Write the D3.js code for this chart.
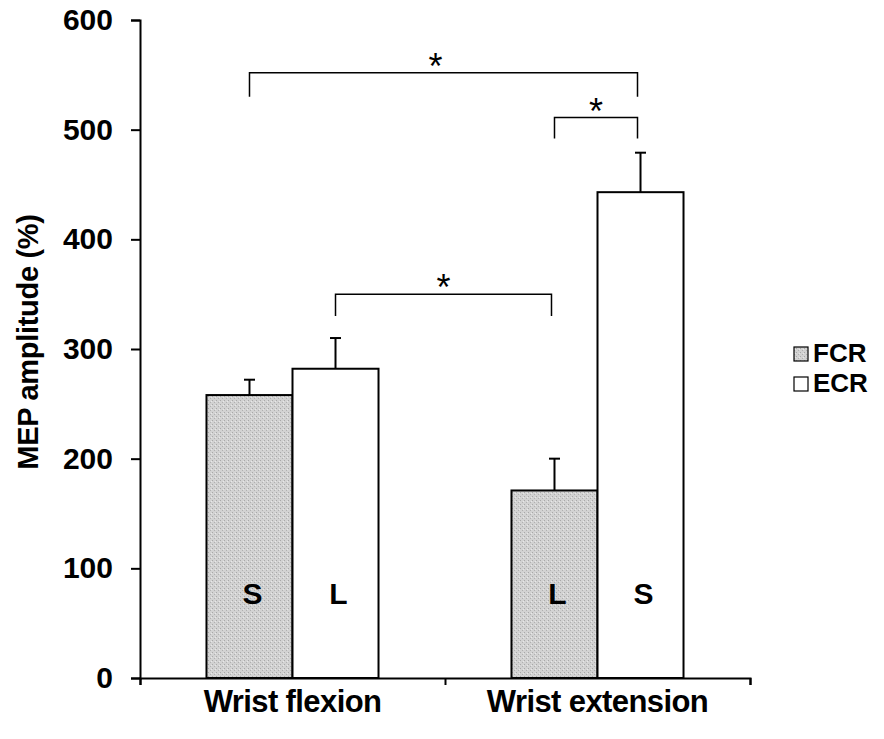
<!DOCTYPE html>
<html>
<head>
<meta charset="utf-8">
<script src="https://cdn.jsdelivr.net/npm/d3@7"></script>
<style>
  html, body { margin: 0; padding: 0; background: #fff; }
  svg { display: block; font-family: "Liberation Sans", Arial, sans-serif; }
</style>
</head>
<body>
<svg id="chart" width="884" height="739"></svg>
<script>
// ---- data ----
const categories = ["Wrist flexion", "Wrist extension"];
const seriesNames = ["FCR", "ECR"];
const fcrValues = [258, 171];
const fcrErrors = [14, 29];
const ecrValues = [282, 443];
const ecrErrors = [28, 36];
const fcrBarLabels = ["S", "L"];
const ecrBarLabels = ["L", "S"];
const yTicks = [0, 100, 200, 300, 400, 500, 600];
const yTitle = "MEP amplitude (%)";
// significance brackets: [fromCategory, fromSeries, toCategory, toSeries, level, drop]
const brackets = [
  ["Wrist flexion", "FCR", "Wrist extension", "ECR", 552, 530],
  ["Wrist extension", "FCR", "Wrist extension", "ECR", 511, 492],
  ["Wrist flexion", "ECR", "Wrist extension", "FCR", 350, 330]
];

const svg = d3.select("#chart");
const y = d3.scaleLinear().domain([0, 600]).range([678, 20]);
const x = d3.scaleBand().domain(categories).range([140, 750]).paddingInner(0).paddingOuter(0);
const xs = d3.scaleBand().domain(seriesNames).range([0, x.bandwidth()]).paddingInner(0).paddingOuter(0.773);

// pattern for FCR (stippled gray)
const defs = svg.append("defs");
const pat = defs.append("pattern").attr("id", "stipple").attr("patternUnits", "userSpaceOnUse")
  .attr("width", 4).attr("height", 4);
pat.append("rect").attr("width", 4).attr("height", 4).attr("fill", "#d2d2d2");
pat.append("rect").attr("x", 0).attr("y", 0).attr("width", 1).attr("height", 1).attr("fill", "#a8a8a8");
pat.append("rect").attr("x", 2).attr("y", 2).attr("width", 1).attr("height", 1).attr("fill", "#b0b0b0");
pat.append("rect").attr("x", 3).attr("y", 1).attr("width", 1).attr("height", 1).attr("fill", "#e8e8e8");

const fills = { FCR: "url(#stipple)", ECR: "#ffffff" };

const rows = [];
categories.forEach((c, i) => {
  rows.push({ cat: c, s: "FCR", v: fcrValues[i], e: fcrErrors[i], lab: fcrBarLabels[i] });
  rows.push({ cat: c, s: "ECR", v: ecrValues[i], e: ecrErrors[i], lab: ecrBarLabels[i] });
});
const cx = (cat, s) => x(cat) + xs(s) + xs.bandwidth() / 2;

// error bars (behind bars)
const eg = svg.append("g").attr("stroke", "#000").attr("stroke-width", 2);
rows.forEach(d => {
  const xc = cx(d.cat, d.s);
  eg.append("line").attr("x1", xc).attr("x2", xc).attr("y1", y(d.v)).attr("y2", y(d.v + d.e));
  eg.append("line").attr("x1", xc - 5.5).attr("x2", xc + 5.5).attr("y1", y(d.v + d.e)).attr("y2", y(d.v + d.e));
});

// bars
svg.append("g").selectAll("rect").data(rows).join("rect")
  .attr("x", d => x(d.cat) + xs(d.s))
  .attr("y", d => y(d.v))
  .attr("width", xs.bandwidth())
  .attr("height", d => y(0) - y(d.v))
  .attr("fill", d => fills[d.s])
  .attr("stroke", "#000")
  .attr("stroke-width", 2);

// bar labels
svg.append("g").selectAll("text").data(rows).join("text")
  .attr("x", d => cx(d.cat, d.s) + 3)
  .attr("y", 604)
  .attr("text-anchor", "middle")
  .attr("font-size", 30).attr("font-weight", "bold")
  .text(d => d.lab);

// y axis
const yAxis = svg.append("g").attr("transform", "translate(140,0)")
  .call(d3.axisLeft(y).tickValues(yTicks).tickSize(9).tickSizeOuter(9).tickPadding(18));
yAxis.selectAll("path, line").attr("stroke", "#000").attr("stroke-width", 2);
yAxis.selectAll("text").attr("font-size", 30).attr("font-weight", "bold")
  .attr("font-family", "Liberation Sans, Arial, sans-serif").attr("fill", "#000");

// x axis (ticks at category boundaries)
const xb = d3.scaleLinear().domain([0, categories.length]).range(x.range());
const xAxis = svg.append("g").attr("transform", "translate(0," + y(0) + ")")
  .call(d3.axisBottom(xb).tickValues(d3.range(categories.length + 1)).tickSize(7).tickSizeOuter(7).tickFormat(""));
xAxis.selectAll("path, line").attr("stroke", "#000").attr("stroke-width", 2);

// category labels
svg.append("g").selectAll("text").data(categories).join("text")
  .attr("x", d => x(d) + x.bandwidth() / 2)
  .attr("y", 712)
  .attr("text-anchor", "middle")
  .attr("font-size", 31).attr("font-weight", "bold")
  .attr("letter-spacing", -0.6)
  .text(d => d);

// y title
svg.append("text")
  .attr("transform", "translate(38,342) rotate(-90)")
  .attr("text-anchor", "middle")
  .attr("font-size", 29).attr("font-weight", "bold")
  .attr("letter-spacing", -0.3)
  .text(yTitle);

// brackets
const bg = svg.append("g");
brackets.forEach((b, i) => {
  const x1 = cx(b[0], b[1]), x2 = cx(b[2], b[3]) - 3;
  bg.append("path")
    .attr("d", `M${x1},${y(b[5])}V${y(b[4])}H${x2}V${y(b[5])}`)
    .attr("fill", "none").attr("stroke", "#000").attr("stroke-width", 1.5);
  bg.append("text")
    .attr("x", (x1 + x2) / 2 - (i === 0 ? 8 : 0)).attr("y", y(b[4]) + 6)
    .attr("text-anchor", "middle")
    .attr("font-size", 36)
    .text("*");
});

// legend
const lg = svg.append("g");
seriesNames.forEach((s, i) => {
  const yy = 347 + i * 30;
  lg.append("rect").attr("x", 794).attr("y", yy).attr("width", 14).attr("height", 14)
    .attr("fill", fills[s]).attr("stroke", "#000").attr("stroke-width", 1.2);
  lg.append("text").attr("x", 813).attr("y", yy + 15)
    .attr("font-size", 26).attr("font-weight", "bold").text(s);
});
</script>
</body>
</html>
